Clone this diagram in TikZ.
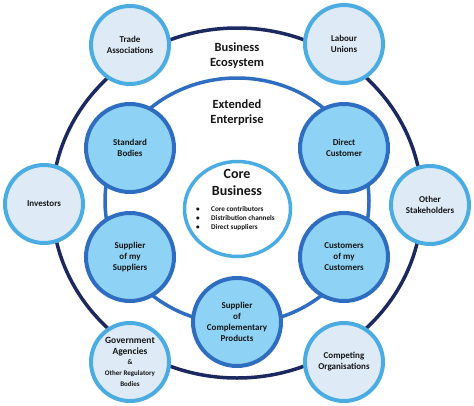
\documentclass[tikz,border=0pt]{standalone}
\usepackage{fontspec}
\setmainfont{Carlito}
\usetikzlibrary{shapes.geometric}
\definecolor{navy}{HTML}{1C2860}
\definecolor{midblue}{HTML}{2F6DC0}
\definecolor{lightborder}{HTML}{4BACE2}
\definecolor{lightfill}{HTML}{DEEBF7}
\definecolor{innerfill}{HTML}{8ED3F5}
\definecolor{txt}{HTML}{151515}
\tikzset{
  outercirc/.style={circle, draw=lightborder, fill=lightfill, line width=4pt, minimum size=78pt, inner sep=0pt, align=center, text=txt, font=\bfseries\fontsize{9}{11}\selectfont},
  innercirc/.style={circle, draw=midblue, fill=innerfill, line width=4pt, minimum size=88pt, inner sep=0pt, align=center, text=txt, font=\bfseries\fontsize{9}{11}\selectfont},
  corecirc/.style={ellipse, draw=lightborder, fill=white, line width=3.5pt, minimum width=106pt, minimum height=95pt, inner sep=0pt},
  ringlabel/.style={align=center, text=txt, font=\bfseries\fontsize{12.5}{15}\selectfont},
}
\begin{document}
\begin{tikzpicture}[x=1pt,y=-1pt]
\useasboundingbox (0,0) rectangle (474,405);
\coordinate (ctr) at (237,203);
\draw[navy, line width=3.5pt] (ctr) ellipse [x radius=185pt, y radius=175pt];
\draw[midblue, line width=3.5pt] (237,201) ellipse [x radius=132pt, y radius=123pt];
\node[corecirc] (core) at (237.5,209) {};
\node[align=center, text=txt, font=\bfseries\fontsize{14}{17}\selectfont] (coretitle) at (237,182) {Core\\Business};
\node[anchor=north west, align=left, text=txt, inner sep=0pt, font=\bfseries\fontsize{7.2}{9}\selectfont] (bullets) at (196,206) {\makebox[15pt][l]{\textbullet}Core contributors\\\makebox[15pt][l]{\textbullet}Distribution channels\\\makebox[15pt][l]{\textbullet}Direct suppliers};
\node[ringlabel] (eco) at (237,56) {Business\\Ecosystem};
\node[ringlabel] (ext) at (237,113) {Extended\\Enterprise};
\node[outercirc] (trade) at (130,45) {Trade\\Associations};
\node[outercirc] (labour) at (344,44) {Labour\\Unions};
\node[outercirc] (inv) at (44,204) {Investors};
\node[outercirc] (other) at (430,205) {Other\\Stakeholders};
\node[outercirc] (gov) at (130,362) {\fontsize{9.5}{11}\selectfont Government\\\fontsize{9.5}{11}\selectfont Agencies\\[-1pt]\fontsize{7}{9}\selectfont \&\\\fontsize{7}{9.5}\selectfont Other Regulatory\\\fontsize{7}{9}\selectfont Bodies};
\node[outercirc] (comp) at (344,362) {Competing\\Organisations};
\node[innercirc] (std) at (130,148) {Standard\\Bodies};
\node[innercirc] (dir) at (344,148) {Direct\\Customer};
\node[innercirc] (sos) at (130,257) {Supplier\\of my\\Suppliers};
\node[innercirc] (coc) at (344,257) {Customers\\of my\\Customers};
\node[innercirc] (scp) at (237,322) {Supplier\\of\\Complementary\\Products};
\end{tikzpicture}
\end{document}
